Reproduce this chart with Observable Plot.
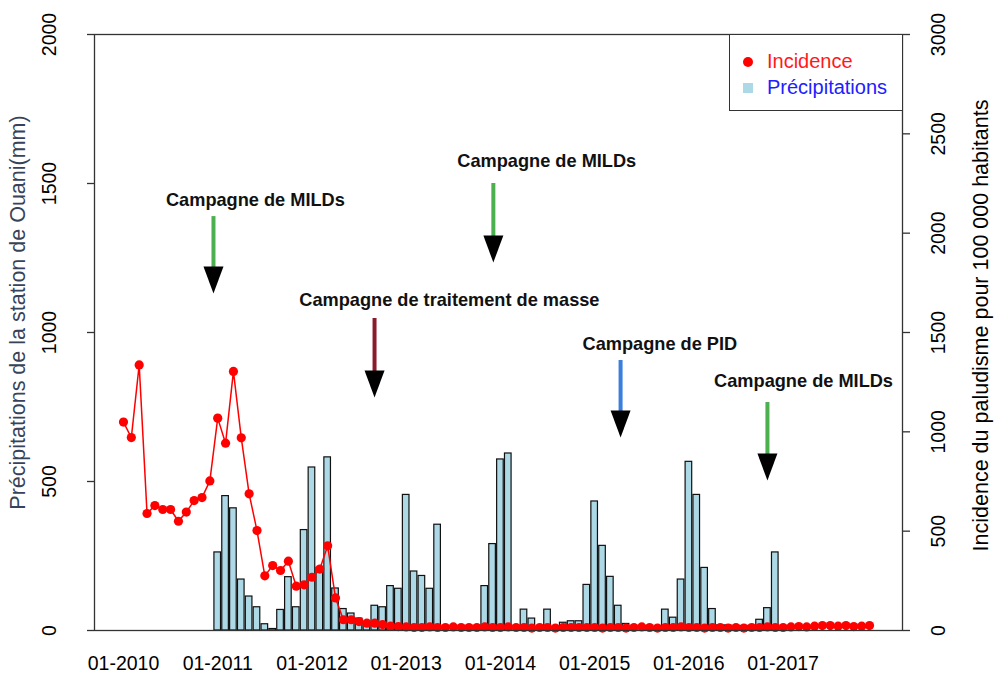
<!DOCTYPE html>
<html><head><meta charset="utf-8">
<script src="https://cdn.jsdelivr.net/npm/d3@7"></script>
<script src="https://cdn.jsdelivr.net/npm/@observablehq/plot@0.6"></script>
<style>
body{margin:0;background:#fff;}
#wrap{position:relative;width:994px;height:678px;font-family:"Liberation Sans",Arial,sans-serif;}
#legend{position:absolute;left:729px;top:34px;width:174px;height:77px;border:1.3px solid #333;box-sizing:border-box;background:#fff;font-size:20px;}
#legend .row{position:absolute;left:0;height:24px;line-height:24px;}
#legend .sym{position:absolute;}
</style></head><body><div id="wrap"></div>
<script>
// ---- data ----
const incidence = [
  1049, 971, 1337, 589, 629, 609, 609, 550, 596, 654, 669, 753,
  1069, 943, 1304, 970, 688, 503, 275, 327, 302, 349, 223, 230,
  268, 309, 426, 164, 54, 54, 45, 37, 37, 30, 22, 20,
  18, 15, 15, 18, 15, 15, 18, 15, 15, 15, 18, 15,
  15, 18, 15, 15, 12, 15, 15, 12, 15, 15, 15, 15,
  15, 12, 15, 15, 12, 15, 18, 15, 12, 15, 15, 18,
  15, 15, 12, 15, 15, 12, 15, 12, 15, 15, 18, 15,
  15, 18, 20, 18, 22, 25, 25, 22, 25, 20, 22, 25
];
const precipStart = 12; // 01-2011
const precipitation = [
  262, 451, 410, 171, 114, 78, 21, 5, 69, 179, 78, 337,
  547, 210, 581, 141, 72, 57, 40, 28, 83, 78, 149, 140,
  455, 198, 183, 140, 355, 0, 0, 0, 0, 0, 149, 290,
  574, 594, 0, 70, 40, 0, 70, 0, 26, 31, 31, 153,
  433, 284, 180, 83, 22, 0, 0, 15, 5, 70, 43, 171,
  566, 455, 210, 72, 17, 17, 12, 15, 15, 36, 75, 262
];
const xTickMonths = [0, 12, 24, 36, 48, 60, 72, 84];
const xTickLabels = ["01-2010", "01-2011", "01-2012", "01-2013", "01-2014", "01-2015", "01-2016", "01-2017"];
const leftTicks = [0, 500, 1000, 1500, 2000];
const rightTicks = [0, 500, 1000, 1500, 2000, 2500, 3000];
const leftMax = 2000, rightMax = 3000;
// annotations (x in month index, y in mm on the left scale)
const annLabels = ["Campagne de MILDs", "Campagne de traitement de masse", "Campagne de MILDs", "Campagne de PID", "Campagne de MILDs"];
const annArrowX = [11.46, 31.97, 47.1, 63.3, 82.0];
const annTextX  = [16.8, 41.5, 53.9, 68.3, 86.6];
const annTextY  = [1443, 1107, 1574, 960, 836];
const annTop    = [1389, 1047, 1500, 906, 765];
const annTip    = [1131, 782, 1235, 648, 503];
const annColors = ["#4CAF50", "#8B1A2B", "#4CAF50", "#3A7FDC", "#4CAF50"];

// ---- build ----
const ratio = leftMax / rightMax;
const plotH = 678 - 34 - 48;
const headLen = 27;
const incData = incidence.map((v, i) => ({i, v}));
const preData = precipitation.map((v, k) => ({i: k + precipStart, v}));
const ann = annLabels.map((label, k) => ({label, ax: annArrowX[k], tx: annTextX[k], ty: annTextY[k], top: annTop[k], tip: annTip[k], color: annColors[k]}));
const headSymbol = {draw(ctx) { ctx.moveTo(-10, -headLen); ctx.lineTo(10, -headLen); ctx.lineTo(0, 0); ctx.closePath(); }};

const chart = Plot.plot({
  width: 994, height: 678,
  marginLeft: 94, marginRight: 92, marginTop: 34, marginBottom: 48,
  x: {domain: [-3.69, 99.2], axis: null},
  y: {domain: [0, leftMax], axis: null},
  style: {fontFamily: "'Liberation Sans', Arial, sans-serif", fontSize: "19px", color: "#000", background: "white", overflow: "visible"},
  marks: [
    Plot.rect(preData, {x1: d => d.i - 0.42, x2: d => d.i + 0.42, y1: 0, y2: "v", fill: "#ADD8E6", stroke: "#111", strokeWidth: 1.2}),
    Plot.line(incData, {x: "i", y: d => d.v * ratio, stroke: "#FF0000", strokeWidth: 1.5}),
    Plot.dot(incData, {x: "i", y: d => d.v * ratio, r: 4.6, fill: "#FF0000", stroke: "none"}),
    Plot.frame({stroke: "#333", strokeWidth: 1.3}),
    Plot.axisY(leftTicks, {anchor: "left", tickSize: 7, tickRotate: -90, tickPadding: 32, lineAnchor: "bottom", textAnchor: "middle", tickFormat: d => String(d), label: null, fontSize: 19.5, stroke: "#333", strokeWidth: 1.3}),
    Plot.axisY(rightTicks.map(v => v * ratio), {anchor: "right", tickSize: 7, tickRotate: -90, tickPadding: 35, lineAnchor: "bottom", textAnchor: "middle", tickFormat: d => String(Math.round(d / ratio)), label: null, fontSize: 19.5, stroke: "#333", strokeWidth: 1.3}),
    Plot.axisX(xTickMonths, {anchor: "bottom", tickSize: 0, tickPadding: 26, tickFormat: d => xTickLabels[xTickMonths.indexOf(d)], label: null, fontSize: 19.5}),
    Plot.text(["Précipitations de la station de Ouani(mm)"], {frameAnchor: "left", dx: -76, dy: -20, rotate: -90, fontSize: 21.5, fill: "#36435A", textAnchor: "middle", lineAnchor: "middle"}),
    Plot.text(["Incidence du paludisme pour 100 000 habitants"], {frameAnchor: "right", dx: 79, dy: -7, rotate: -90, fontSize: 21.5, fill: "#000", textAnchor: "middle", lineAnchor: "middle"}),
    // annotations
    Plot.ruleX(ann, {x: "ax", y1: "top", y2: d => d.tip + (headLen - 2) * leftMax / plotH, stroke: "color", strokeWidth: 4}),
    Plot.dot(ann, {x: "ax", y: "tip", symbol: headSymbol, fill: "#000", stroke: "none", r: 10}),
    Plot.text(ann, {x: "tx", y: "ty", text: "label", fontWeight: "bold", fontSize: 18.2, fill: "#111", lineAnchor: "middle"})
  ]
});
const wrap = document.getElementById("wrap");
wrap.appendChild(chart);
const legend = document.createElement("div");
legend.id = "legend";
legend.innerHTML = `
  <div class="sym" style="left:13px;top:22px;width:10px;height:10px;border-radius:50%;background:#FF0000"></div>
  <div class="row" style="left:37px;top:14px;color:#FF1A1A">Incidence</div>
  <div class="sym" style="left:13px;top:48px;width:10px;height:10px;background:#ADD8E6"></div>
  <div class="row" style="left:37px;top:40px;color:#2020FF">Précipitations</div>`;
wrap.appendChild(legend);
</script></body></html>
